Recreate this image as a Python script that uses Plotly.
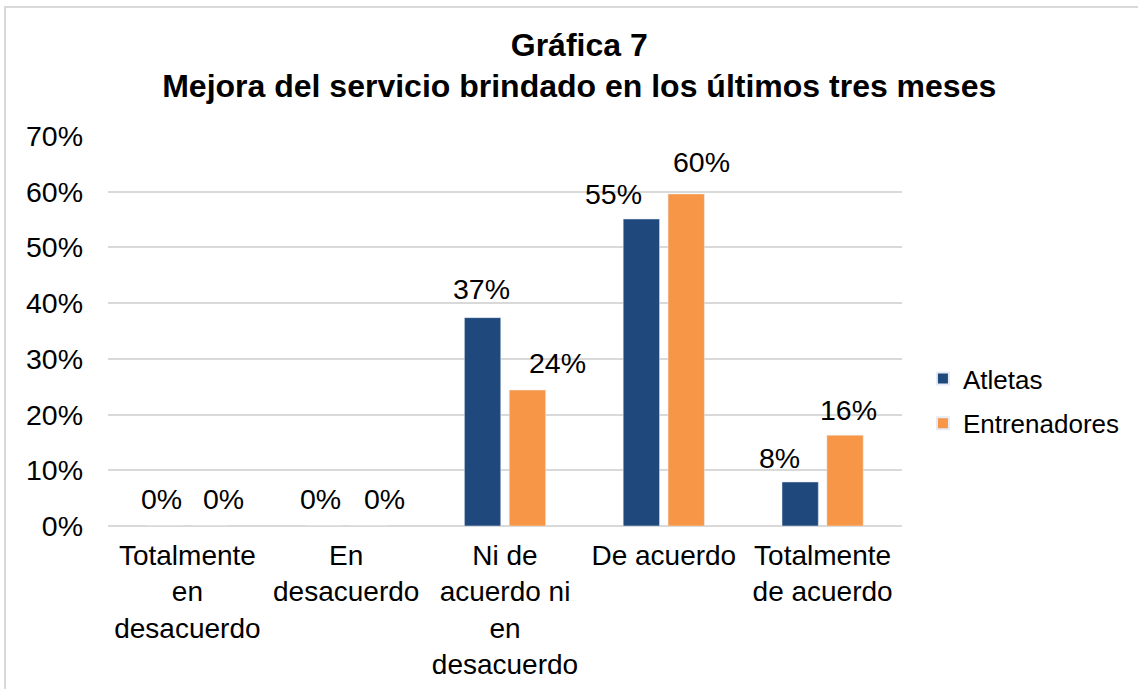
import plotly.graph_objects as go

categories = ["Totalmente<br>en<br>desacuerdo", "En<br>desacuerdo",
              "Ni de<br>acuerdo ni<br>en<br>desacuerdo", "De acuerdo",
              "Totalmente<br>de acuerdo"]
atletas = [0, 0, 37.4, 55.1, 7.9]
entrenadores = [0, 0, 24.4, 59.6, 16.3]
atletas_labels = ["0%", "0%", "37%", "55%", "8%"]
entrenadores_labels = ["0%", "0%", "24%", "60%", "16%"]
y_ticks = [0, 10, 20, 30, 40, 50, 60, 70]
y_tick_labels = ["0%", "10%", "20%", "30%", "40%", "50%", "60%", "70%"]

# label styling offsets (pixels)
atl_dx = [-3, -3, -1.5, -28, -21]
ent_dx = [14, 16, 30, 15, 3]
atl_dy = [27, 27, 29, 25, 24]
ent_dy = [27, 27, 27, 32, 25]

BLUE = "#1F497D"
ORANGE = "#F79646"
FONT = "Liberation Sans, Arial, sans-serif"
FS = 28.5

fig = go.Figure()
fig.add_trace(go.Bar(name="Atletas", x=categories, y=atletas, marker_color=BLUE,
                     legendgroup="a"))
fig.add_trace(go.Bar(name="Entrenadores", x=categories, y=entrenadores, marker_color=ORANGE,
                     legendgroup="e"))

annotations = []
for i, c in enumerate(categories):
    annotations.append(dict(x=c, y=atletas[i], text=atletas_labels[i], showarrow=False,
                            xshift=-22.5 + atl_dx[i], yshift=atl_dy[i], yanchor="middle",
                            font=dict(size=FS, color="#000")))
    annotations.append(dict(x=c, y=entrenadores[i], text=entrenadores_labels[i], showarrow=False,
                            xshift=22.5 + ent_dx[i], yshift=ent_dy[i], yanchor="middle",
                            font=dict(size=FS, color="#000")))

fig.update_layout(
    width=1138, height=689,
    margin=dict(l=108, r=236, t=136, b=163, autoexpand=False),
    paper_bgcolor="white", plot_bgcolor="white",
    font=dict(family=FONT, size=FS, color="#000"),
    barmode="group", bargap=0.435, bargroupgap=0.19,
    title=dict(text="<b>Gráfica 7<br>Mejora del servicio brindado en los últimos tres meses</b>",
               x=0.509, xanchor="center", xref="container",
               y=0.919, yanchor="middle", yref="container",
               font=dict(size=32, color="#000")),
    legend=dict(xref="container", yref="container", x=0.811, xanchor="left",
                y=0.418, yanchor="middle", traceorder="grouped", tracegroupgap=8,
                font=dict(size=26), itemsizing="constant"),
    annotations=annotations,
    xaxis=dict(showgrid=False, showline=False, ticks="", tickfont=dict(size=28),
               ticklabelstandoff=10),
    yaxis=dict(range=[0, 70], tickvals=y_ticks, ticktext=y_tick_labels,
               showgrid=True, gridcolor="#D9D9D9", gridwidth=1.5,
               zeroline=True, zerolinecolor="#D9D9D9", zerolinewidth=1.5,
               showline=False, ticks="", tickfont=dict(size=FS),
               ticklabelstandoff=24),
    shapes=[dict(type="rect", xref="paper", yref="paper",
                 x0=-0.1297, x1=1.312, y0=-0.446, y1=1.331,
                 line=dict(color="#D9D9D9", width=2), layer="below")],
    showlegend=True,
)

fig.write_html("out.html")
